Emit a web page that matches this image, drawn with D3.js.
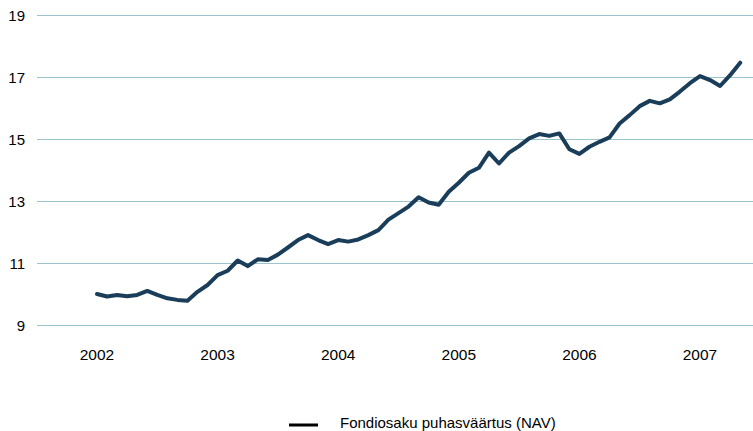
<!DOCTYPE html>
<html>
<head>
<meta charset="utf-8">
<script src="https://cdn.jsdelivr.net/npm/d3@7"></script>
<style>
  body { margin: 0; background: #fff; }
  svg { display: block; font-family: "Liberation Sans", Arial, sans-serif; }
</style>
</head>
<body>
<svg width="753" height="431"></svg>
<script>
// monthly NAV, Jan 2002 .. May 2007
let years = ["2002", "2003", "2004", "2005", "2006", "2007"];
let yTicks = [9, 11, 13, 15, 17, 19];
let nav = [
    10.0, 9.92, 9.97, 9.93, 9.97, 10.1, 9.97, 9.86, 9.81, 9.78, 10.07, 10.29,
    10.61, 10.75, 11.08, 10.9, 11.12, 11.1, 11.27, 11.5, 11.74, 11.9, 11.74, 11.61,
    11.74, 11.69, 11.76, 11.9, 12.06, 12.4, 12.61, 12.82, 13.12, 12.95, 12.88, 13.3,
    13.59, 13.91, 14.07, 14.56, 14.21, 14.56, 14.77, 15.02, 15.16, 15.1, 15.18, 14.67,
    14.52, 14.75, 14.91, 15.05, 15.5, 15.77, 16.06, 16.23, 16.15, 16.28, 16.53, 16.8,
    17.03, 16.9, 16.71, 17.06, 17.46
];
let legendLabel = "Fondiosaku puhasväärtus (NAV)";

let svg = d3.select("svg");

let x = d3.scaleLinear()
    .domain([0, nav.length - 1])
    .range([97, 97 + (nav.length - 1) * 10.05]);

let y = d3.scaleLinear()
    .domain([9, 19])
    .range([325, 15]);

// gridlines
svg.append("g")
    .selectAll("line")
    .data(yTicks)
    .enter()
    .append("line")
    .attr("x1", 37)
    .attr("x2", 753)
    .attr("y1", d => y(d) + 0.5)
    .attr("y2", d => y(d) + 0.5)
    .attr("stroke", "#9cc4cc")
    .attr("stroke-width", 1);

// y labels
svg.append("g")
    .selectAll("text")
    .data(yTicks)
    .enter()
    .append("text")
    .attr("x", 25)
    .attr("y", d => y(d) + 5.5)
    .attr("text-anchor", "end")
    .attr("font-size", 15)
    .attr("fill", "#000")
    .text(d => d);

// x labels
svg.append("g")
    .selectAll("text")
    .data(years)
    .enter()
    .append("text")
    .attr("x", (d, i) => x(i * 12))
    .attr("y", 360)
    .attr("text-anchor", "middle")
    .attr("font-size", 15.5)
    .attr("fill", "#000")
    .text(d => d);

// the line
let line = d3.line()
    .x((d, i) => x(i))
    .y(d => y(d));

svg.append("path")
    .datum(nav)
    .attr("d", line)
    .attr("fill", "none")
    .attr("stroke", "#1a3d5a")
    .attr("stroke-width", 4)
    .attr("stroke-linejoin", "round")
    .attr("stroke-linecap", "round");

// legend
svg.append("line")
    .attr("x1", 289)
    .attr("x2", 318)
    .attr("y1", 425)
    .attr("y2", 425)
    .attr("stroke", "#000")
    .attr("stroke-width", 3);

svg.append("text")
    .attr("x", 340)
    .attr("y", 427.5)
    .attr("font-size", 15)
    .attr("fill", "#000")
    .text(legendLabel);
</script>
</body>
</html>
